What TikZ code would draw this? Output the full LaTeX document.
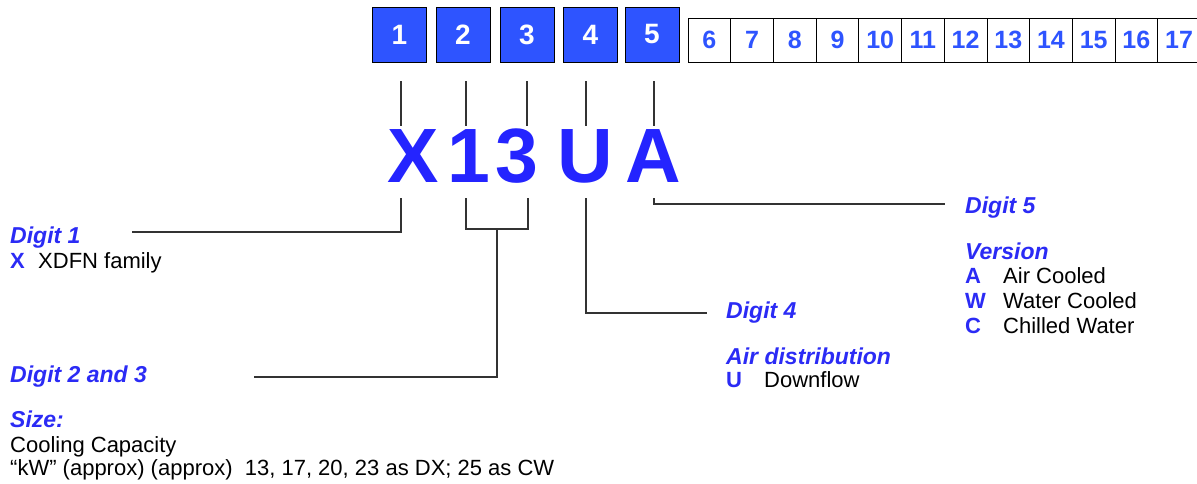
\documentclass[tikz,border=0pt]{standalone}
\usepackage{fontspec}
\setmainfont{Liberation Sans}
\usetikzlibrary{positioning}
\definecolor{CodeBlue}{HTML}{2E54FF}
\definecolor{CodeLetter}{HTML}{2424FF}
\definecolor{CodeText}{HTML}{2B2BF5}
\definecolor{CodeLine}{HTML}{333333}

\begin{document}
\begin{tikzpicture}[x=1pt,y=-1pt,
 digbox/.style={draw=black,line width=0.8pt,fill=CodeBlue,minimum width=54pt,minimum height=55pt,inner sep=0pt,text=white,font=\fontsize{28}{28}\selectfont\bfseries},
 optbox/.style={draw=black,line width=0.8pt,fill=white,minimum width=42.7pt,minimum height=44pt,inner sep=0pt,text=CodeBlue,font=\fontsize{25}{25}\selectfont\bfseries},
 bigchar/.style={inner sep=0pt,anchor=base,text=CodeLetter,font=\fontsize{77}{77}\selectfont\bfseries},
 head/.style={inner sep=0pt,anchor=base west,text=CodeText,font=\fontsize{23}{23}\selectfont\bfseries\itshape},
 code/.style={inner sep=0pt,anchor=base west,text=CodeText,font=\fontsize{22}{22}\selectfont\bfseries},
 desc/.style={inner sep=0pt,anchor=base west,font=\fontsize{22}{22}\selectfont},
 lead/.style={draw=CodeLine,line width=1.2pt}]
\useasboundingbox (0,0) rectangle (1197,483);

% digit positions
\node[digbox] (b1) at (399.5,34.5) {1};
\node[digbox] (b2) at (463,34.5) {2};
\node[digbox] (b3) at (527,34.5) {3};
\node[digbox] (b4) at (590.5,34.5) {4};
\node[digbox] (b5) at (652,34.5) {5};
\foreach \n [count=\i from 0] in {6,...,17}
  \node[optbox] (c\n) at (709.35+42.7*\i,40) {\n};

% the code itself
\node[bigchar] (lX) at (413,182) {X};
\node[bigchar] (l1) at (469,182) {1};
\node[bigchar] (l3) at (516.5,182) {3};
\node[bigchar] (lU) at (585,182) {U};
\node[bigchar] (lA) at (653,182) {A};
\foreach \x in {401,466,527,586,654}
  \draw[lead] (\x,81) -- (\x,126);

% legend, left
\node[head] (dig1) at (10,243) {Digit 1};
\node[code] (cX) at (10,268) {X};
\node[desc] (dX) at (38,268) {XDFN family};
\node[head] (dig23) at (10,382) {Digit 2 and 3};
\node[head] (size) at (10,427) {Size:};
\node[desc] (cap) at (10,452) {Cooling Capacity};
\node[desc] (kw) at (10,475) {“kW” (approx) (approx)\ \ 13, 17, 20, 23 as DX; 25 as CW};

% legend, right
\node[head] (dig4) at (726,318) {Digit 4};
\node[head] (air) at (726,364) {Air distribution};
\node[code] (cU) at (726,387) {U};
\node[desc] (dU) at (764,387) {Downflow};
\node[head] (dig5) at (965,213) {Digit 5};
\node[head] (ver) at (965,259) {Version};
\node[code] (cA) at (965,283) {A};
\node[desc] (dA) at (1003,283) {Air Cooled};
\node[code] (cW) at (965,308) {W};
\node[desc] (dW) at (1003,308) {Water Cooled};
\node[code] (cC) at (965,333) {C};
\node[desc] (dC) at (1003,333) {Chilled Water};

% leaders
\coordinate (e1) at (132,232);
\coordinate (e23) at (254,377);
\coordinate (e4) at (707,313);
\coordinate (e5) at (945,204);
\draw[lead] (401,198) |- (e1);
\draw[lead] (466,198) |- (528,229) -- (528,198);
\draw[lead] (497,229) |- (e23);
\draw[lead] (586,198) |- (e4);
\draw[lead] (654,198) |- (e5);
\end{tikzpicture}
\end{document}
